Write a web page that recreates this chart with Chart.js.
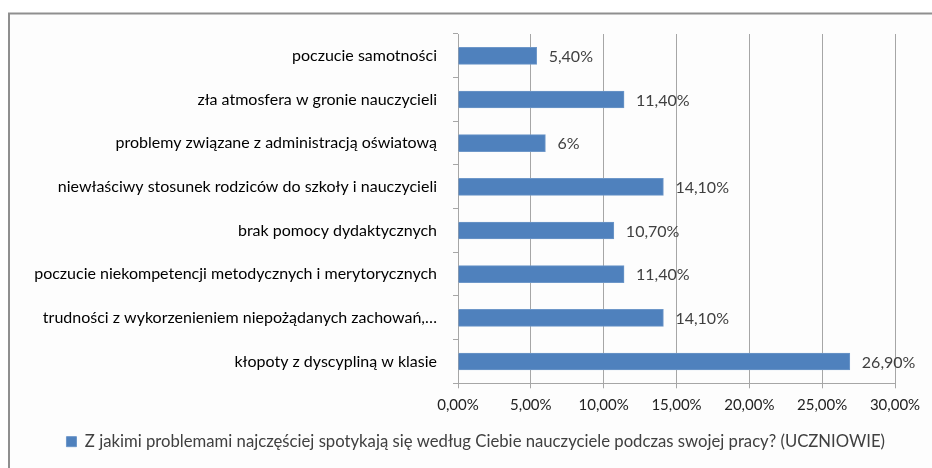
<!DOCTYPE html>
<html><head><meta charset="utf-8">
<script src="https://cdn.jsdelivr.net/npm/chart.js@4/dist/chart.umd.min.js"></script>
<style>html,body{margin:0;padding:0;background:#fff}#wrap{width:932px;height:468px;position:relative}</style>
</head><body><div id="wrap"><canvas id="c" width="932" height="468"></canvas></div>
<script>
const categories = [
  "poczucie samotności",
  "zła atmosfera w gronie nauczycieli",
  "problemy związane z administracją oświatową",
  "niewłaściwy stosunek rodziców do szkoły i nauczycieli",
  "brak pomocy dydaktycznych",
  "poczucie niekompetencji metodycznych i merytorycznych",
  "trudności z wykorzenieniem niepożądanych zachowań,…",
  "kłopoty z dyscypliną w klasie"
];
const values = [5.4, 11.4, 6, 14.1, 10.7, 11.4, 14.1, 26.9];
const valueLabels = ["5,40%", "11,40%", "6%", "14,10%", "10,70%", "11,40%", "14,10%", "26,90%"];
const tickLabels = ["0,00%", "5,00%", "10,00%", "15,00%", "20,00%", "25,00%", "30,00%"];
const seriesName = "Z jakimi problemami najczęściej spotykają się według Ciebie nauczyciele podczas swojej pracy? (UCZNIOWIE)";

const FONT = "Lato, 'Open Sans', sans-serif";

const framePlugin = {
  id: 'frame',
  beforeDraw(chart) {
    const ctx = chart.ctx;
    ctx.save();
    ctx.fillStyle = '#fdfdfd';
    ctx.fillRect(10, 14, 922, 454);
    ctx.strokeStyle = '#8f8f8f';
    ctx.lineWidth = 2;
    ctx.beginPath();
    ctx.moveTo(9, 468); ctx.lineTo(9, 13.5); ctx.lineTo(932, 13.5);
    ctx.stroke();
    ctx.restore();
  }
};

const valueLabelPlugin = {
  id: 'valueLabels',
  afterDatasetsDraw(chart) {
    const ctx = chart.ctx;
    const meta = chart.getDatasetMeta(0);
    ctx.save();
    ctx.font = "16px " + FONT;
    ctx.fillStyle = '#404040';
    ctx.textAlign = 'left';
    ctx.textBaseline = 'middle';
    meta.data.forEach((bar, i) => {
      ctx.fillText(valueLabels[i], bar.x + 12, bar.y + 1);
    });
    ctx.restore();
  }
};

new Chart(document.getElementById('c'), {
  type: 'bar',
  data: {
    labels: categories,
    datasets: [{
      label: seriesName,
      data: values,
      backgroundColor: '#4f81bd',
      borderColor: '#6d97c9',
      borderWidth: 1,
      barThickness: 17
    }]
  },
  options: {
    indexAxis: 'y',
    responsive: false,
    animation: false,
    devicePixelRatio: 1,
    layout: { padding: { left: 10, top: 34, right: 37, bottom: 8 } },
    plugins: {
      tooltip: { enabled: false },
      legend: {
        position: 'bottom',
        align: 'end',
        labels: {
          boxWidth: 10, boxHeight: 10, padding: 10,
          color: '#404040',
          font: { family: FONT, size: 16.7 }
        }
      }
    },
    scales: {
      x: {
        min: 0, max: 30,
        ticks: {
          stepSize: 5,
          color: '#222',
          padding: 8,
          maxRotation: 0,
          font: { family: FONT, size: 15 },
          callback: (v, i) => tickLabels[i]
        },
        grid: { color: '#a6a6a6', tickLength: 5, lineWidth: 1 },
        border: { color: '#a6a6a6' },
        afterFit(s) { s.height = 40; }
      },
      y: {
        ticks: {
          color: '#000',
          padding: 16,
          autoSkip: false,
          font: { family: FONT, size: 16 }
        },
        grid: { drawOnChartArea: false, color: '#a6a6a6', tickLength: 5, offset: true },
        border: { color: '#a6a6a6' },
        afterFit(s) { s.width = 448; }
      }
    }
  },
  plugins: [framePlugin, valueLabelPlugin]
});
</script></body></html>
